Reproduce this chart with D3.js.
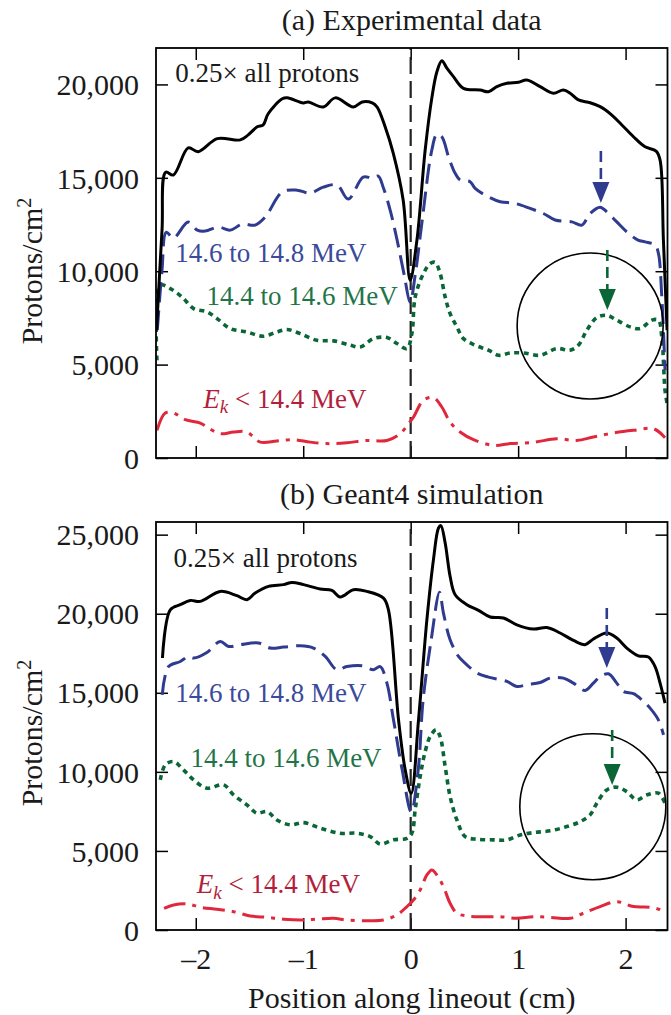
<!DOCTYPE html>
<html><head><meta charset="utf-8">
<script src="https://cdn.jsdelivr.net/npm/d3@7"></script>
<style>
body{margin:0;background:#fff}
svg{display:block}
text{font-family:"Liberation Serif","Times New Roman",serif}
</style>
</head><body>
<svg id="c" width="671" height="1015"></svg>
<script>
// ---------- data ----------
const xTicks = [-2, -1, 0, 1, 2];
const yTicksA = [0, 5000, 10000, 15000, 20000];
const yTicksB = [0, 5000, 10000, 15000, 20000, 25000];

// (a) Experimental data
const expAllX = [-2.365,-2.314,-2.28,-2.209,-2.070,-1.977,-1.800,-1.586,-1.512,-1.428,-1.372,-1.326,-1.195,-1.149,-1.0,-0.953,-0.814,-0.702,-0.535,-0.451,-0.358,-0.312,-0.237,-0.163,-0.070,-0.005,0.058,0.135,0.197,0.244,0.290,0.337,0.398,0.491,0.647,0.724,0.802,0.895,1.003,1.081,1.205,1.328,1.421,1.484,1.561,1.670,1.763,1.872,1.965,2.073,2.181,2.284,2.321,2.352,2.386];
const expAllY = [6840,12200,15300,15150,16600,16400,17100,17030,17300,17730,17840,18430,19230,19280,19010,19060,18790,19280,18790,19060,19010,18790,17720,16330,13810,9520,11660,16490,19280,20680,21270,20870,20420,19790,19700,19610,19880,20060,20120,20240,19880,19530,19700,19530,19170,19020,18810,18360,17830,17200,16660,16430,15950,11660,6840];

const expHighX = [-2.358,-2.314,-2.274,-2.209,-2.070,-1.986,-1.912,-1.791,-1.679,-1.567,-1.447,-1.353,-1.195,-1.056,-0.935,-0.814,-0.684,-0.581,-0.442,-0.358,-0.302,-0.256,-0.191,-0.126,-0.060,-0.005,0.042,0.104,0.197,0.244,0.290,0.352,0.414,0.460,0.553,0.600,0.724,0.833,0.972,1.112,1.235,1.344,1.500,1.593,1.670,1.763,1.825,1.918,2.011,2.116,2.181,2.274,2.305,2.337,2.367];
const expHighY = [6840,10060,12090,11770,12630,12200,12150,12360,12200,12520,12470,12900,14240,14340,14180,14500,14610,13860,15040,14990,15090,14500,13270,11660,9790,8340,9790,12580,16490,17330,17200,16130,15240,14880,14790,14430,13980,13720,13630,13360,13090,12740,12640,12470,13090,13430,13180,12640,12110,11660,11570,11400,10970,8620,4700];

const expMidX = [-2.361,-2.330,-2.237,-2.128,-2.020,-1.896,-1.803,-1.679,-1.524,-1.369,-1.245,-1.152,-1.028,-0.873,-0.718,-0.563,-0.470,-0.346,-0.221,-0.128,-0.035,0.011,0.042,0.119,0.181,0.228,0.274,0.321,0.367,0.430,0.491,0.600,0.724,0.817,0.926,1.049,1.205,1.360,1.484,1.561,1.639,1.732,1.825,1.918,2.042,2.135,2.244,2.305,2.337,2.367,2.386];
const expMidY = [5230,9250,9070,8620,8000,7820,7470,6930,6750,6520,6750,6880,6660,6300,6270,6040,5940,6390,6450,6130,5860,6660,8620,9880,10410,10470,9880,8620,7730,7020,6390,6040,5770,5500,5620,5620,5500,5860,5770,6040,6840,7520,7640,7380,7020,6930,7380,7380,6480,3620,2930];

const expLowX = [-2.361,-2.284,-2.207,-2.098,-1.958,-1.896,-1.772,-1.648,-1.524,-1.400,-1.245,-1.090,-0.935,-0.780,-0.593,-0.407,-0.221,-0.098,-0.020,0.026,0.119,0.212,0.290,0.367,0.460,0.584,0.770,0.926,1.142,1.360,1.546,1.700,1.887,2.073,2.259,2.367];
const expLowY = [1480,2410,2410,2050,1870,1660,1300,1390,1390,850,910,980,850,770,820,940,940,1300,1840,2190,3090,3230,2730,1920,1390,980,680,770,840,1030,940,1120,1340,1480,1570,1090];

// (b) Geant4 simulation
const simAllX = [-2.310,-2.237,-2.144,-2.051,-1.958,-1.772,-1.617,-1.524,-1.447,-1.323,-1.183,-1.105,-0.997,-0.842,-0.733,-0.656,-0.532,-0.407,-0.253,-0.207,-0.113,-0.051,0.005,0.073,0.151,0.212,0.259,0.281,0.321,0.367,0.414,0.523,0.631,0.740,0.864,0.988,1.142,1.267,1.391,1.515,1.623,1.700,1.825,1.918,2.011,2.119,2.212,2.274,2.321,2.367];
const simAllY = [17200,20250,20570,20840,20780,21410,21140,20890,21310,21730,21840,21980,21840,21560,21470,21060,21520,21410,20990,20250,13290,10130,8650,13290,19620,23420,25420,25570,24470,22360,21200,20570,20210,19790,19730,19300,19030,19130,18780,18310,18040,18400,18780,18460,17830,17340,17260,16660,15610,14350];

const simHighX = [-2.312,-2.253,-2.144,-2.067,-2.020,-1.896,-1.772,-1.695,-1.586,-1.416,-1.307,-1.183,-1.028,-0.904,-0.795,-0.687,-0.593,-0.453,-0.346,-0.284,-0.221,-0.160,-0.079,0.005,0.070,0.116,0.191,0.268,0.305,0.367,0.445,0.523,0.616,0.724,0.895,0.988,1.081,1.205,1.298,1.422,1.515,1.623,1.700,1.763,1.840,1.918,1.980,2.073,2.151,2.228,2.305,2.353];
const simHighY = [14870,16660,16980,17300,17200,17550,18250,17930,18040,18150,17830,17890,17970,17830,17300,16460,16660,16710,16460,16660,15610,13290,10130,7470,10130,14560,18350,21350,20040,18350,17300,16770,16250,15990,15720,15400,15510,15650,15930,15930,15610,15150,15610,16030,16200,15610,15080,14940,14560,14030,13290,12340];

const simMidX = [-2.330,-2.284,-2.207,-2.114,-2.020,-1.896,-1.741,-1.648,-1.524,-1.431,-1.338,-1.245,-1.121,-0.997,-0.842,-0.656,-0.501,-0.377,-0.284,-0.160,-0.035,0.011,0.042,0.088,0.135,0.181,0.237,0.274,0.321,0.367,0.430,0.507,0.616,0.770,0.895,1.019,1.142,1.298,1.453,1.577,1.670,1.732,1.825,1.918,2.011,2.104,2.197,2.305,2.367];
const simMidY = [9490,10440,10650,10130,9490,8970,9180,8540,7910,7390,7490,6960,6650,6790,6440,6120,6120,5910,5440,5700,5800,6120,7600,9700,11290,12230,12660,12230,10340,8440,6960,5910,5740,5700,5700,6010,6160,6270,6540,6850,7280,8020,8860,9030,8750,8230,8540,8650,8020];

const simLowX = [-2.295,-2.207,-2.082,-1.958,-1.803,-1.648,-1.493,-1.338,-1.183,-1.028,-0.873,-0.718,-0.593,-0.407,-0.253,-0.128,-0.035,0.026,0.088,0.151,0.197,0.244,0.305,0.367,0.430,0.523,0.677,0.833,0.988,1.142,1.298,1.484,1.607,1.763,1.918,2.073,2.228,2.321,2.367];
const simLowY = [1370,1580,1650,1440,1310,1160,890,800,680,630,680,740,630,590,630,950,1480,1900,2530,3480,3800,3480,2740,1690,1060,890,840,840,740,840,800,740,1060,1480,1790,1480,1440,1270,950];

// annotation anchors (data coordinates)
const labelsA = [
  {t:"0.25× all protons", x:-2.19, y:20130, kind:"all"},
  {t:"14.6 to 14.8 MeV", x:-2.19, y:10490, kind:"high"},
  {t:"14.4 to 14.6 MeV", x:-1.90, y:8190, kind:"mid"},
  {t:"Ek", x:-1.93, y:2690, kind:"low"}
];
const labelsB = [
  {t:"0.25× all protons", x:-2.207, y:22970, kind:"all"},
  {t:"14.6 to 14.8 MeV", x:-2.19, y:14440, kind:"high"},
  {t:"14.4 to 14.6 MeV", x:-2.05, y:10330, kind:"mid"},
  {t:"Ek", x:-1.99, y:2320, kind:"low"}
];
const circleA = {x:1.67, y:7066};
const circleB = {x:1.695, y:7797};
const arrowsA = [{x:1.77, y0:16435, y1:13650, kind:"high"}, {x:1.83, y0:11135, y1:7923, kind:"mid"}];
const arrowsB = [{x:1.825, y0:20360, y1:16570, kind:"high"}, {x:1.875, y0:12650, y1:9170, kind:"mid"}];

// ---------- styles ----------
const style = {
  all:  {stroke:"#000000", dash:null,        w:3.0, text:"#1a1a1a"},
  high: {stroke:"#2e3b8f", dash:"20,8",      w:3.0, text:"#3b4a9b"},
  mid:  {stroke:"#0a6636", dash:"5,4.5",     w:3.6, text:"#1f7548"},
  low:  {stroke:"#e0283c", dash:"22,7,4,7",  w:3.0, text:"#b21f3b"}
};
const FONT = '"Liberation Serif","Times New Roman",serif';

const svg = d3.select("#c");
const x = d3.scaleLinear().domain([-2.37, 2.39]).range([156, 667.5]);

const panels = [
  {id:"a", title:"(a) Experimental data", titleY:30, top:48, bottom:458, ymax:21950, yticks:yTicksA,
   ylabelY:271, xlabels:false,
   series:[["all",expAllX,expAllY],["high",expHighX,expHighY],["mid",expMidX,expMidY],["low",expLowX,expLowY]],
   labels:labelsA, circle:circleA, arrows:arrowsA},
  {id:"b", title:"(b) Geant4 simulation", titleY:504, top:522, bottom:930, ymax:25800, yticks:yTicksB,
   ylabelY:733, xlabels:true,
   series:[["all",simAllX,simAllY],["high",simHighX,simHighY],["mid",simMidX,simMidY],["low",simLowX,simLowY]],
   labels:labelsB, circle:circleB, arrows:arrowsB}
];

const defs = svg.append("defs");

panels.forEach(p => {
  const y = d3.scaleLinear().domain([0, p.ymax]).range([p.bottom, p.top]);
  const g = svg.append("g");
  const [x0, x1] = x.range();

  defs.append("clipPath").attr("id", "clip" + p.id)
    .append("rect").attr("x", x0).attr("y", p.top).attr("width", x1 - x0).attr("height", p.bottom - p.top);

  // title
  g.append("text").attr("x", (x0 + x1) / 2).attr("y", p.titleY)
    .attr("text-anchor", "middle").attr("font-size", 30).attr("fill", "#1a1a1a").text(p.title);

  // axes
  const styleAxis = sel => {
    sel.select(".domain").remove();
    sel.selectAll(".tick line").attr("stroke", "#000").attr("stroke-width", 1.5);
    sel.selectAll("text").attr("font-family", FONT).attr("font-size", 30).attr("fill", "#1a1a1a");
  };
  g.append("g").attr("transform", `translate(${x0},0)`)
    .call(d3.axisLeft(y).tickValues(p.yticks).tickSizeInner(-12).tickSizeOuter(0).tickPadding(17).tickFormat(d3.format(",")))
    .call(styleAxis)
    .selectAll("text").attr("dy", "0.34em");
  g.append("g").attr("transform", `translate(${x1},0)`)
    .call(d3.axisRight(y).tickValues(p.yticks).tickSizeInner(-12).tickSizeOuter(0).tickFormat(""))
    .call(styleAxis);
  g.append("g").attr("transform", `translate(0,${p.bottom})`)
    .call(d3.axisBottom(x).tickValues(xTicks).tickSizeInner(-12).tickSizeOuter(0).tickPadding(18)
      .tickFormat(p.xlabels ? (d => d < 0 ? "\u2013" + Math.abs(d) : String(d)) : ""))
    .call(styleAxis);
  g.append("g").attr("transform", `translate(0,${p.top})`)
    .call(d3.axisTop(x).tickValues(xTicks).tickSizeInner(-12).tickSizeOuter(0).tickFormat(""))
    .call(styleAxis);

  // y label
  g.append("text").attr("transform", `translate(42,${p.ylabelY}) rotate(-90)`)
    .attr("text-anchor", "middle").attr("font-size", 30).attr("fill", "#1a1a1a")
    .call(t => {
      t.append("tspan").text("Protons/cm");
      t.append("tspan").attr("font-size", 20).attr("dy", "-0.55em").text("2");
    });

  // zero dashed line
  g.append("line").attr("x1", x(0)).attr("x2", x(0)).attr("y1", p.bottom).attr("y2", p.top)
    .attr("stroke", "#222").attr("stroke-width", 2.2).attr("stroke-dasharray", "17,7");

  // curves
  const plot = g.append("g").attr("clip-path", `url(#clip${p.id})`);
  const line = d3.line().x(d => x(d[0])).y(d => y(d[1])).curve(d3.curveCatmullRom.alpha(0.5));
  p.series.slice().reverse().forEach(([k, xs, ys]) => {
    const pts = xs.map((v, i) => [v, ys[i]]);
    plot.append("path").datum(pts).attr("d", line)
      .attr("fill", "none").attr("stroke", style[k].stroke).attr("stroke-width", style[k].w)
      .attr("stroke-linejoin", "round")
      .attr("stroke-dasharray", style[k].dash);
  });

  // circle
  g.append("circle").attr("cx", x(p.circle.x)).attr("cy", y(p.circle.y)).attr("r", 73)
    .attr("fill", "none").attr("stroke", "#000").attr("stroke-width", 1.6);

  // arrows
  p.arrows.forEach(a => {
    const ax = x(a.x), ya = y(a.y0), yt = y(a.y1), hh = 21, hw = 8.5;
    g.append("line").attr("x1", ax).attr("x2", ax).attr("y1", ya).attr("y2", yt - hh + 2)
      .attr("stroke", style[a.kind].stroke).attr("stroke-width", 2.6).attr("stroke-dasharray", "11,6");
    g.append("path").attr("d", `M${ax - hw},${yt - hh} L${ax + hw},${yt - hh} L${ax},${yt} Z`)
      .attr("fill", style[a.kind].stroke);
  });

  // labels
  p.labels.forEach(l => {
    const t = g.append("text").attr("x", x(l.x)).attr("y", y(l.y)).attr("font-size", 27)
      .attr("fill", style[l.kind].text);
    if (l.kind === "low") {
      t.append("tspan").attr("font-style", "italic").text("E");
      t.append("tspan").attr("font-style", "italic").attr("font-size", 19).attr("dy", "0.28em").text("k");
      t.append("tspan").attr("dy", "-0.2em").text(" < 14.4 MeV");
    } else {
      t.text(l.t);
    }
  });

  // frame
  g.append("rect").attr("x", x0).attr("y", p.top).attr("width", x1 - x0).attr("height", p.bottom - p.top)
    .attr("fill", "none").attr("stroke", "#000").attr("stroke-width", 1.8);

  if (p.xlabels) {
    g.append("text").attr("x", (x0 + x1) / 2).attr("y", 1008).attr("text-anchor", "middle")
      .attr("font-size", 30).attr("fill", "#1a1a1a").text("Position along lineout (cm)");
  }
});
</script>
</body></html>
